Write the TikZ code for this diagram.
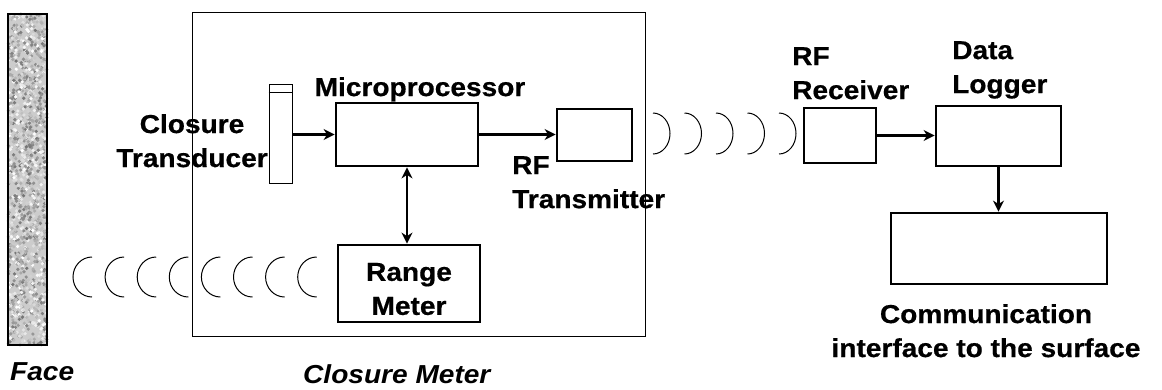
\documentclass[tikz,border=0pt]{standalone}
\usepackage{fontspec}
\setmainfont{Liberation Sans}[FakeStretch=1.08, BoldFeatures={FakeBold=0.6}]
\usetikzlibrary{arrows.meta}

\begin{document}
\begin{tikzpicture}[
    x=1pt, y=-1pt,
    >={Stealth[length=11pt,width=11pt,inset=3.5pt]},
    block/.style={
        rectangle,
        draw,
        line width=2.8pt,
        inner sep=0pt,
        align=center,
        font=\bfseries\fontsize{26pt}{34pt}\selectfont
    },
    thinbox/.style={
        rectangle,
        draw,
        line width=1pt,
        inner sep=0pt
    },
    lbl/.style={
        inner sep=0pt,
        align=#1,
        font=\bfseries\fontsize{26pt}{34pt}\selectfont
    },
    lbl/.default=center,
    wave/.style={line width=1pt},
    link/.style={line width=2.4pt}
]
\useasboundingbox (0,0) rectangle (1162,389);

% Face (rock wall)
\node[thinbox, line width=2.5pt, minimum width=39pt, minimum height=331pt] (face) at (27.5,179.5) {};
\begin{scope}
    \clip (face.south west) rectangle (face.north east);
    \fill[gray!40] (face.south west) rectangle (face.north east);
    \pgfmathsetseed{11}
    \foreach \i in {1,...,1400}{
        \pgfmathsetmacro{\fx}{8+39*rnd}
        \pgfmathsetmacro{\fy}{14+331*rnd}
        \pgfmathsetmacro{\fc}{int(55*rnd)}
        \fill[black!\fc] (\fx,\fy) circle[radius=1.8pt];
    }
\end{scope}
\node[thinbox, line width=2.5pt, minimum width=39pt, minimum height=331pt] at (face) {};

% Closure meter housing
\node[thinbox, minimum width=453pt, minimum height=324pt] (meter) at (418.5,174) {};

% Transducer
\node[thinbox, minimum width=23pt, minimum height=99pt] (tdc) at (280.5,133.5) {};
\draw[line width=1pt] ([yshift=-9pt]tdc.north west) -- ([yshift=-9pt]tdc.north east);

% Blocks
\node[block, minimum width=142pt, minimum height=63pt] (micro) at (407,134.5) {};
\node[block, minimum width=75pt, minimum height=52pt] (rftx) at (594.5,135) {};
\node[block, minimum width=142pt, minimum height=77pt] (range) at (409,283.5) {\rule{0pt}{29pt}Range\\Meter};
\node[block, minimum width=72pt, minimum height=55pt] (rfrx) at (840,135.5) {};
\node[block, minimum width=125pt, minimum height=60pt] (logger) at (998.5,136) {};
\node[block, minimum width=216pt, minimum height=71pt] (comm) at (999,248.5) {};

% Connectors
\draw[->,link] (tdc.east |- micro.west) -- (micro.west);
\draw[->,link] (micro.east) -- (micro.east -| rftx.west);
\draw[<->,link] (micro.south) -- (micro.south |- range.north);
\draw[->,link] (rfrx.east) -- (rfrx.east -| logger.west);
\draw[->,link] (logger.south) -- (logger.south |- comm.north);

% Waves
\foreach \i in {0,...,7}
    \draw[wave] ({92+32.1*\i},297) arc[start angle=90,end angle=270,x radius=19,y radius=20];
\foreach \i in {0,...,4}
    \draw[wave] ({653+31.5*\i},113) arc[start angle=-90,end angle=90,x radius=17,y radius=20.5];

% Labels
\node[lbl, anchor=north] (tdclbl) at (192,114) {Closure\\Transducer};
\node[lbl, anchor=north] (microlbl) at (420,77) {Microprocessor};
\node[lbl=left, anchor=north west] (txlbl) at (512,156) {RF\\Transmitter};
\node[lbl=left, anchor=north west] (rxlbl) at (792,47) {RF\\Receiver};
\node[lbl=left, anchor=north west] (loglbl) at (952,41) {Data\\Logger};
\node[lbl, anchor=north] (commlbl) at (986,304) {Communication\\interface to the surface};
\node[lbl, font=\bfseries\itshape\fontsize{26pt}{34pt}\selectfont, anchor=north west] (facelbl) at (10,362) {Face};
\node[lbl, font=\bfseries\itshape\fontsize{26pt}{34pt}\selectfont, anchor=north west] (meterlbl) at (303,364) {Closure Meter};

\end{tikzpicture}
\end{document}
